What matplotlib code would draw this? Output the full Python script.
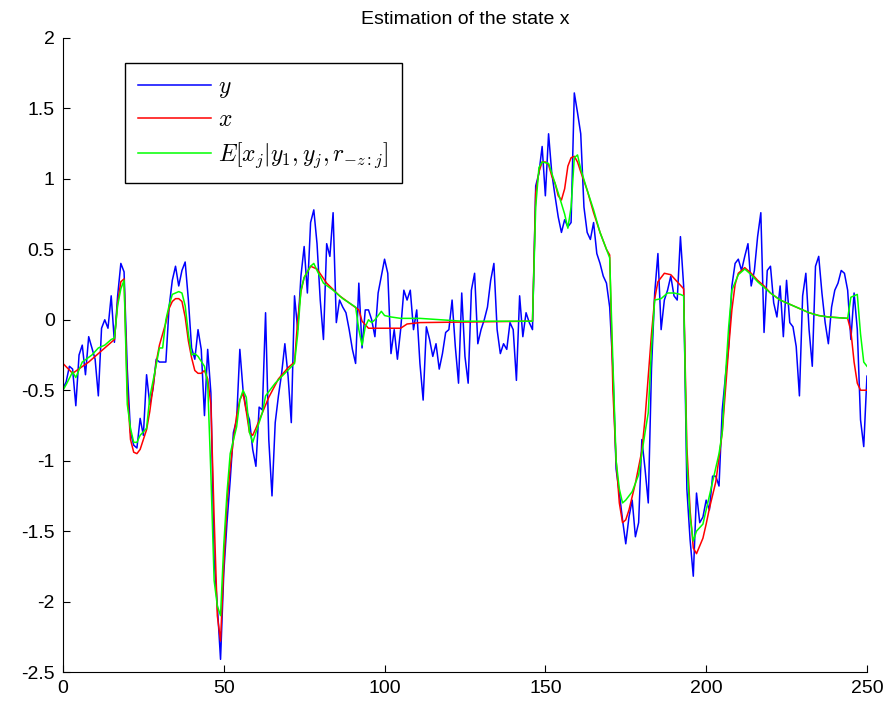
import matplotlib
matplotlib.use("Agg")
import matplotlib.pyplot as plt
import numpy as np

plt.rcParams["font.family"] = ["Liberation Sans", "DejaVu Sans"]
plt.rcParams["mathtext.fontset"] = "cm"
plt.rcParams["axes.unicode_minus"] = False

# observations y, one per time step 0..250
y_obs = [
    -0.49, -0.44, -0.33, -0.35, -0.61, -0.25, -0.18, -0.39, -0.12, -0.20,
    -0.28, -0.54, -0.06, 0.00, -0.06, 0.17, -0.16, 0.17, 0.40, 0.34,
    -0.35, -0.80, -0.89, -0.91, -0.70, -0.82, -0.39, -0.60, -0.49, -0.28,
    -0.30, -0.30, -0.30, 0.09, 0.28, 0.38, 0.24, 0.35, 0.41, 0.14,
    -0.20, -0.28, -0.07, -0.21, -0.68, -0.21, -0.52, -1.70, -2.03, -2.41,
    -1.80, -1.44, -1.14, -0.80, -0.71, -0.21, -0.50, -0.64, -0.71, -0.92,
    -1.04, -0.62, -0.64, 0.05, -0.85, -1.25, -0.73, -0.54, -0.38, -0.17,
    -0.40, -0.73, 0.17, -0.07, 0.31, 0.52, 0.19, 0.69, 0.78, 0.54,
    0.14, -0.14, 0.54, 0.45, 0.76, -0.02, 0.14, 0.09, 0.05, -0.07,
    -0.21, -0.31, 0.26, -0.20, 0.07, 0.07, 0.00, -0.12, 0.19, 0.31,
    0.43, 0.33, -0.24, -0.07, -0.28, -0.07, 0.21, 0.14, 0.21, -0.07,
    0.07, -0.31, -0.57, -0.05, -0.14, -0.26, -0.17, -0.35, -0.24, -0.09,
    -0.07, 0.14, -0.19, -0.45, 0.19, -0.26, -0.45, 0.21, 0.33, -0.17,
    -0.07, 0.00, 0.09, 0.28, 0.40, -0.07, -0.24, -0.17, -0.21, -0.02,
    -0.07, -0.43, 0.17, -0.12, 0.05, -0.02, -0.07, 0.95, 1.04, 1.23,
    0.88, 1.32, 1.04, 0.88, 0.73, 0.62, 0.71, 0.66, 0.69, 1.61,
    1.47, 1.32, 0.80, 0.62, 0.57, 0.69, 0.47, 0.40, 0.31, 0.26,
    0.09, -0.35, -1.06, -1.23, -1.42, -1.59, -1.40, -1.28, -1.54, -1.44,
    -0.85, -1.06, -1.30, -0.35, 0.19, 0.47, -0.07, 0.14, 0.21, 0.31,
    0.17, 0.14, 0.59, 0.24, -1.20, -1.56, -1.82, -1.23, -1.44, -1.40,
    -1.28, -1.35, -1.11, -1.11, -1.18, -0.64, -0.40, -0.19, 0.24, 0.40,
    0.43, 0.35, 0.45, 0.54, 0.24, 0.35, 0.59, 0.76, -0.09, 0.35,
    0.38, 0.12, 0.02, 0.24, -0.12, 0.28, -0.02, -0.05, -0.19, -0.54,
    0.17, 0.33, -0.07, -0.33, 0.38, 0.45, 0.19, -0.02, -0.17, 0.09,
    0.21, 0.26, 0.35, 0.33, 0.21, -0.14, 0.19, -0.07, -0.71, -0.90,
    -0.40,
]
t_obs = np.arange(len(y_obs))

# true state x, read at key time steps
x_t = [0, 3, 8, 12, 16, 17, 18, 19, 20, 21, 22, 23, 24, 25, 26, 27, 28, 29,
       30, 31, 32, 33, 34, 35, 36, 37, 38, 39, 40, 41, 42, 43, 44, 45, 46,
       47, 48, 49, 50, 51, 52, 53, 54, 55, 56, 57, 58, 59, 60, 62, 64, 67,
       70, 72, 73, 74, 75, 77, 79, 82, 86, 89, 92, 93, 95, 105, 107, 111,
       146, 147, 148, 149, 150, 151, 152, 153, 154, 155, 156, 157, 158, 159,
       160, 161, 163, 165, 167, 169, 170, 171, 172, 173, 174, 175, 176, 178,
       180, 181, 182, 183, 184, 185, 187, 189, 191, 193, 194, 195, 196, 197,
       199, 200, 201, 203, 204, 205, 206, 207, 208, 209, 210, 212, 214, 216,
       218, 220, 223, 226, 229, 232, 235, 238, 244, 245, 246, 247, 248, 250]
x_v = [-0.31, -0.38, -0.30, -0.22, -0.14, 0.12, 0.27, 0.29, -0.50, -0.85,
       -0.94, -0.95, -0.92, -0.85, -0.78, -0.65, -0.48, -0.30, -0.18, -0.10,
       -0.02, 0.08, 0.13, 0.15, 0.15, 0.13, 0.02, -0.15, -0.27, -0.36,
       -0.38, -0.38, -0.36, -0.42, -0.60, -1.40, -2.10, -2.28, -1.75, -1.30,
       -1.05, -0.85, -0.68, -0.57, -0.52, -0.65, -0.80, -0.82, -0.77, -0.66,
       -0.55, -0.42, -0.34, -0.30, 0.00, 0.20, 0.30, 0.38, 0.36, 0.26,
       0.17, 0.12, 0.07, -0.01, -0.06, -0.06, -0.03, -0.02, -0.01, 0.90,
       1.05, 1.12, 1.12, 1.10, 1.02, 0.97, 0.88, 0.85, 0.93, 1.09,
       1.15, 1.16, 1.12, 1.05, 0.92, 0.76, 0.62, 0.50, 0.46, -0.50,
       -1.00, -1.30, -1.44, -1.42, -1.35, -1.16, -0.93, -0.70, -0.40, -0.10,
       0.15, 0.27, 0.33, 0.32, 0.27, 0.22, -0.90, -1.35, -1.62, -1.66,
       -1.55, -1.45, -1.34, -1.15, -0.98, -0.80, -0.50, -0.20, 0.07, 0.25,
       0.33, 0.37, 0.33, 0.28, 0.24, 0.19, 0.14, 0.11, 0.08, 0.05,
       0.03, 0.02, 0.01, -0.08, -0.30, -0.45, -0.50, -0.50]

# estimate E[x_j | ...], read at key time steps
e_t = [0, 1, 3, 4, 6, 9, 11, 13, 15, 16, 17, 18, 19, 20, 21, 22, 23, 24, 26,
       27, 29, 30, 31, 32, 33, 34, 36, 37, 38, 39, 40, 41, 42, 44, 45, 46,
       47, 48, 49, 50, 51, 52, 54, 55, 56, 57, 58, 59, 60, 62, 63, 66, 69,
       72, 73, 74, 75, 77, 78, 79, 81, 84, 87, 91, 92, 93, 94, 95, 96, 97,
       98, 99, 100, 102, 105, 111, 124, 146, 147, 148, 149, 151, 153, 154,
       156, 157, 158, 159, 160, 161, 163, 165, 167, 169, 170, 171, 172, 173,
       174, 175, 177, 179, 180, 181, 182, 183, 184, 186, 188, 190, 192, 193,
       194, 195, 196, 197, 199, 201, 203, 204, 205, 206, 207, 208, 210, 212,
       214, 216, 220, 223, 226, 229, 232, 235, 238, 244, 245, 247, 248, 249,
       250]
e_v = [-0.50, -0.46, -0.37, -0.41, -0.30, -0.25, -0.20, -0.18, -0.14, -0.13,
       0.10, 0.22, 0.28, -0.60, -0.77, -0.87, -0.87, -0.82, -0.77, -0.55,
       -0.32, -0.20, -0.20, 0.00, 0.10, 0.18, 0.20, 0.19, 0.10, -0.10,
       -0.25, -0.24, -0.26, -0.33, -0.45, -1.10, -1.85, -2.03, -2.10, -1.60,
       -1.23, -0.95, -0.76, -0.57, -0.50, -0.55, -0.80, -0.87, -0.80, -0.66,
       -0.54, -0.45, -0.38, -0.31, -0.10, 0.21, 0.30, 0.38, 0.40, 0.35,
       0.26, 0.21, 0.15, 0.09, -0.07, -0.18, -0.05, 0.00, -0.02, 0.00,
       0.03, 0.06, 0.03, 0.02, 0.01, 0.01, -0.01, -0.01, 0.80, 1.08,
       1.12, 1.11, 0.97, 0.90, 0.75, 0.65, 0.80, 1.15, 1.17, 1.07,
       0.92, 0.78, 0.62, 0.50, 0.44, -0.30, -1.00, -1.20, -1.30, -1.28,
       -1.22, -1.10, -0.95, -0.80, -0.66, -0.20, 0.14, 0.15, 0.19, 0.19,
       0.18, 0.17, -1.00, -1.40, -1.57, -1.50, -1.45, -1.25, -1.05, -0.95,
       -0.80, -0.40, -0.05, 0.21, 0.32, 0.36, 0.32, 0.27, 0.19, 0.14,
       0.11, 0.08, 0.05, 0.03, 0.02, 0.01, 0.16, 0.18, -0.10, -0.30,
       -0.33]

x_ticks = [0, 50, 100, 150, 200, 250]
y_ticks = [2, 1.5, 1, 0.5, 0, -0.5, -1, -1.5, -2, -2.5]
y_tick_labels = ["2", "1.5", "1", "0.5", "0", "-0.5", "-1", "-1.5", "-2", "-2.5"]

fig = plt.figure(figsize=(8.88, 7.10), dpi=100)
ax = fig.add_axes([0.0709, 0.0535, 0.9054, 0.893])

ax.plot(t_obs, y_obs, color="#0000ff", lw=1.1, label=r"$y$")
ax.plot(x_t, x_v, color="#ff0000", lw=1.1, label=r"$x$")
ax.plot(e_t, e_v, color="#00ff00", lw=1.1, label=r"$E[x_j|y_1,y_j,r_{-z:j}]$")

ax.set_xlim(0, 250)
ax.set_ylim(-2.5, 2)
ax.set_xticks(x_ticks)
ax.set_yticks(y_ticks)
ax.set_yticklabels(y_tick_labels)
ax.spines["top"].set_visible(False)
ax.spines["right"].set_visible(False)
ax.tick_params(direction="in", length=5, labelsize=14, pad=6)
ax.set_title("Estimation of the state x", fontsize=14, pad=10)

leg = ax.legend(loc="upper left", bbox_to_anchor=(0.077, 0.9606), borderaxespad=0,
                fancybox=False, edgecolor="black", framealpha=1, fontsize=17,
                handlelength=3.1, handletextpad=0.3, borderpad=0.55,
                labelspacing=0.4)
leg.get_frame().set_linewidth(1.0)

fig.savefig("out.png", dpi=100)
